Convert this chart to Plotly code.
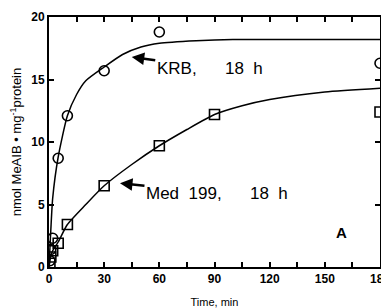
import plotly.graph_objects as go

# KRB, 18 h (circles)
krb_t = [0.5, 1, 2, 5, 10, 30, 60, 180]
krb_v = [0.5, 1.4, 2.3, 8.7, 12.1, 15.7, 18.8, 16.3]
# Med 199, 18 h (squares)
med_t = [0.5, 1, 2, 5, 10, 30, 60, 90, 180]
med_v = [0.3, 0.8, 1.3, 1.9, 3.4, 6.5, 9.7, 12.2, 12.4]

# fitted curves
krb_curve_t = [0, 1, 2, 5, 10, 15, 20, 30, 40, 50, 60, 80, 100, 140, 180]
krb_curve_v = [0, 3.0, 5.5, 8.8, 12.1, 13.8, 14.9, 16.0, 17.0, 17.6, 17.9, 18.1, 18.2, 18.2, 18.2]
med_curve_t = [0, 1, 2, 5, 10, 20, 30, 45, 60, 75, 90, 105, 120, 150, 180]
med_curve_v = [0, 0.9, 1.3, 2.0, 3.4, 5.0, 6.5, 8.2, 9.7, 11.0, 12.2, 12.9, 13.4, 14.0, 14.3]

x_ticks = [0, 30, 60, 90, 120, 150, 180]
y_ticks = [0, 5, 10, 15, 20]

fig = go.Figure()
fig.add_trace(go.Scatter(x=krb_curve_t, y=krb_curve_v, mode="lines",
                         line=dict(color="black", width=1.5, shape="spline", smoothing=0.6),
                         hoverinfo="skip", showlegend=False))
fig.add_trace(go.Scatter(x=med_curve_t, y=med_curve_v, mode="lines",
                         line=dict(color="black", width=1.5, shape="spline", smoothing=0.6),
                         hoverinfo="skip", showlegend=False))
fig.add_trace(go.Scatter(x=krb_t, y=krb_v, mode="markers",
                         marker=dict(symbol="circle-open", size=10, color="black", line=dict(width=1.6)),
                         showlegend=False))
fig.add_trace(go.Scatter(x=med_t, y=med_v, mode="markers",
                         marker=dict(symbol="square-open", size=10, color="black", line=dict(width=1.6)),
                         showlegend=False))

font = dict(family="Liberation Sans, Arial, sans-serif", color="black")
sp = "&nbsp;"

fig.update_layout(
    width=381, height=300,
    margin=dict(l=41, r=9, t=9, b=41),
    paper_bgcolor="white", plot_bgcolor="white",
    font=font,
    showlegend=False,
    xaxis=dict(range=[0, 180], tickvals=x_ticks, ticks="inside", ticklen=5, tickwidth=1.5,
               tickcolor="black", showline=True, linecolor="black", linewidth=2, mirror="ticks",
               showgrid=False, zeroline=False, automargin=False, ticklabeloverflow="allow",
               minor=dict(dtick=15, ticks="inside", ticklen=5, tickwidth=1.5, tickcolor="black"),
               tickfont=dict(size=12, weight="bold", **font),
               title=dict(text="Time, min", font=dict(size=11, **font))),
    yaxis=dict(range=[0, 20], tickvals=y_ticks, ticks="inside", ticklen=5, tickwidth=1.5,
               tickcolor="black", showline=True, linecolor="black", linewidth=2, mirror="ticks",
               showgrid=False, zeroline=False, automargin=False, ticklabeloverflow="allow",
               tickfont=dict(size=12, weight="bold", **font),
               title=dict(text="nmol MeAIB • mg<sup>-1</sup>protein", font=dict(size=13, **font))),
    annotations=[
        dict(x=45, y=16.8, xref="x", yref="y", ax=78, ay=11, showarrow=True,
             arrowhead=2, arrowsize=1, arrowwidth=2.5, arrowcolor="black",
             text="KRB," + sp * 6 + "18" + sp * 2 + "h", font=dict(size=17, **font)),
        dict(x=38.6, y=6.7, xref="x", yref="y", ax=97, ay=10, showarrow=True,
             arrowhead=2, arrowsize=1, arrowwidth=2.5, arrowcolor="black",
             text="Med" + sp * 2 + "199," + sp * 6 + "18" + sp * 2 + "h", font=dict(size=17, **font)),
        dict(x=159, y=2.8, xref="x", yref="y", xanchor="center", yanchor="middle", showarrow=False,
             text="<b>A</b>", font=dict(size=15, **font)),
    ],
)

fig.write_html("out.html")
